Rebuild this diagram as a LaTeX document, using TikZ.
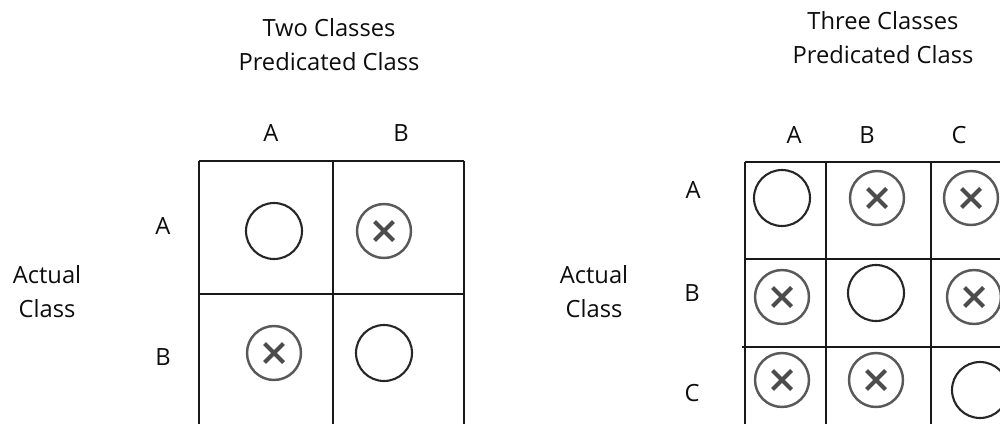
\documentclass[tikz,border=0pt]{standalone}
\usepackage{fontspec}
\setmainfont{Open Sans}
\tikzset{
  txt/.style={font=\fontsize{13.5}{19.4}\selectfont, text=black!95, align=center, inner sep=0pt},
  grid/.style={black!90, line width=1.2pt},
  hit/.style={circle, draw=black!85, line width=1.2pt, minimum size=1.12cm, inner sep=0pt},
  miss/.style={circle, draw=black!65, line width=1.4pt, minimum size=1.08cm, inner sep=0pt,
    path picture={
      \draw[black!70, line width=2.3pt]
        ([shift={(-0.19cm,-0.19cm)}]path picture bounding box.center) -- ([shift={(0.19cm,0.19cm)}]path picture bounding box.center)
        ([shift={(-0.19cm,0.19cm)}]path picture bounding box.center) -- ([shift={(0.19cm,-0.19cm)}]path picture bounding box.center);
    }},
}

\begin{document}
\begin{tikzpicture}[x=0.02cm,y=-0.02cm]
  \clip (0,0) rectangle (1000,423);

  % Two classes
  \node[txt] (ttl2) at (329,45) {Two Classes\\Predicated Class};
  \node[txt] (c2a) at (271,133) {A};
  \node[txt] (c2b) at (401,133) {B};
  \node[txt] (r2a) at (163,226) {A};
  \node[txt] (r2b) at (163,357) {B};
  \node[txt] (act2) at (47,292) {Actual\\Class};

  \foreach \x in {199,333,464}
    \draw[grid] (\x,161) -- (\x,440);
  \foreach \y in {161,294}
    \draw[grid] (199,\y) -- (464,\y);

  \node[hit]  (aa2) at (274,231) {};
  \node[miss] (ab2) at (384,231) {};
  \node[miss] (ba2) at (274,353) {};
  \node[hit]  (bb2) at (384,353) {};

  % Three classes
  \node[txt] (ttl3) at (883,38) {Three Classes\\Predicated Class};
  \node[txt] (c3a) at (794,135) {A};
  \node[txt] (c3b) at (867,135) {B};
  \node[txt] (c3c) at (959,135) {C};
  \node[txt] (r3a) at (693,190) {A};
  \node[txt] (r3b) at (692,293) {B};
  \node[txt] (r3c) at (692,393) {C};
  \node[txt] (act3) at (594,292) {Actual\\Class};

  \foreach \x in {745,826,931}
    \draw[grid] (\x,162) -- (\x,440);
  \draw[grid] (745,162) -- (1010,162);
  \draw[grid] (745,259) -- (1010,259);
  \draw[grid] (742,347) -- (1010,347);

  \node[hit]  (aa3) at (782,198) {};
  \node[miss] (ab3) at (877,198) {};
  \node[miss] (ac3) at (971,198) {};
  \node[miss] (ba3) at (782,297) {};
  \node[hit]  (bb3) at (876,293) {};
  \node[miss] (bc3) at (974,297) {};
  \node[miss] (ca3) at (782,380) {};
  \node[miss] (cb3) at (876,380) {};
  \node[hit]  (cc3) at (980,390) {};

\end{tikzpicture}
\end{document}
